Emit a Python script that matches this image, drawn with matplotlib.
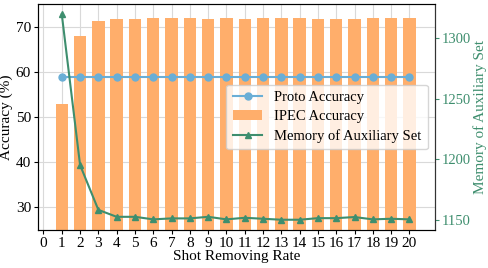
import matplotlib
matplotlib.use("Agg")
import matplotlib.pyplot as plt
import numpy as np

plt.rcParams['font.family'] = ['Liberation Serif', 'DejaVu Serif']
plt.rcParams['font.size'] = 11

rates = list(range(1, 21))
proto_acc = [58.9] * 20
ipec_acc = [52.9, 68.0, 71.3, 71.7, 71.7, 71.8, 71.8, 71.8, 71.7, 71.8,
            71.7, 71.8, 71.8, 71.8, 71.7, 71.7, 71.6, 71.8, 71.8, 71.8]
memory = [1319.4, 1195.3, 1158.4, 1152.7, 1152.7, 1150.6, 1151.4, 1151.4, 1152.7, 1150.6,
          1151.9, 1151.1, 1150.3, 1150.3, 1151.6, 1151.6, 1152.5, 1150.6, 1151.1, 1150.6]
xticks = list(range(0, 21))

c_bar = '#FFAE6B'
c_proto = '#6AAED6'
c_mem = '#3E8E6E'

fig = plt.figure(figsize=(4.89, 2.68), dpi=100)
ax = fig.add_axes([38/489, 1-230/268, (435-38)/489, (230-4)/268])
ax.grid(True, color='#d9d9d9', linewidth=0.8, zorder=0)
ax.set_axisbelow(True)
b = ax.bar(rates, ipec_acc, width=0.68, color=c_bar, label='IPEC Accuracy', zorder=2)
l1, = ax.plot(rates, proto_acc, color=c_proto, marker='o', markersize=5, linewidth=1.5,
              label='Proto Accuracy', zorder=3)
ax.set_ylim(25, 75)
ax.set_xlim(-0.3, 21.4)
ax.set_xticks(xticks)
ax.set_yticks([30, 40, 50, 60, 70])
ax.set_xlabel('Shot Removing Rate', labelpad=0)
ax.set_ylabel('Accuracy (%)', labelpad=2)
ax.tick_params(axis='both', pad=2, length=3)
for s in ax.spines.values():
    s.set_color('#333333')

ax2 = ax.twinx()
l2, = ax2.plot(rates, memory, color=c_mem, marker='^', markersize=5, linewidth=1.5,
               label='Memory of Auxiliary Set', zorder=4)
ax2.set_yticks([1150, 1200, 1250, 1300])
ax2.tick_params(axis='y', colors=c_mem, pad=1.5, length=3, labelsize=10.5)
ax2.set_ylabel('Memory of Auxiliary Set', color=c_mem, labelpad=2)
ax2.spines['right'].set_color('#333333')

ax2.legend([l1, b, l2], ['Proto Accuracy', 'IPEC Accuracy', 'Memory of Auxiliary Set'],
           loc='center right', fontsize=10.5,
           framealpha=0.8, borderpad=0.45, labelspacing=0.4, handlelength=2.0,
           handletextpad=0.8)

fig.savefig('out.png', dpi=100)
